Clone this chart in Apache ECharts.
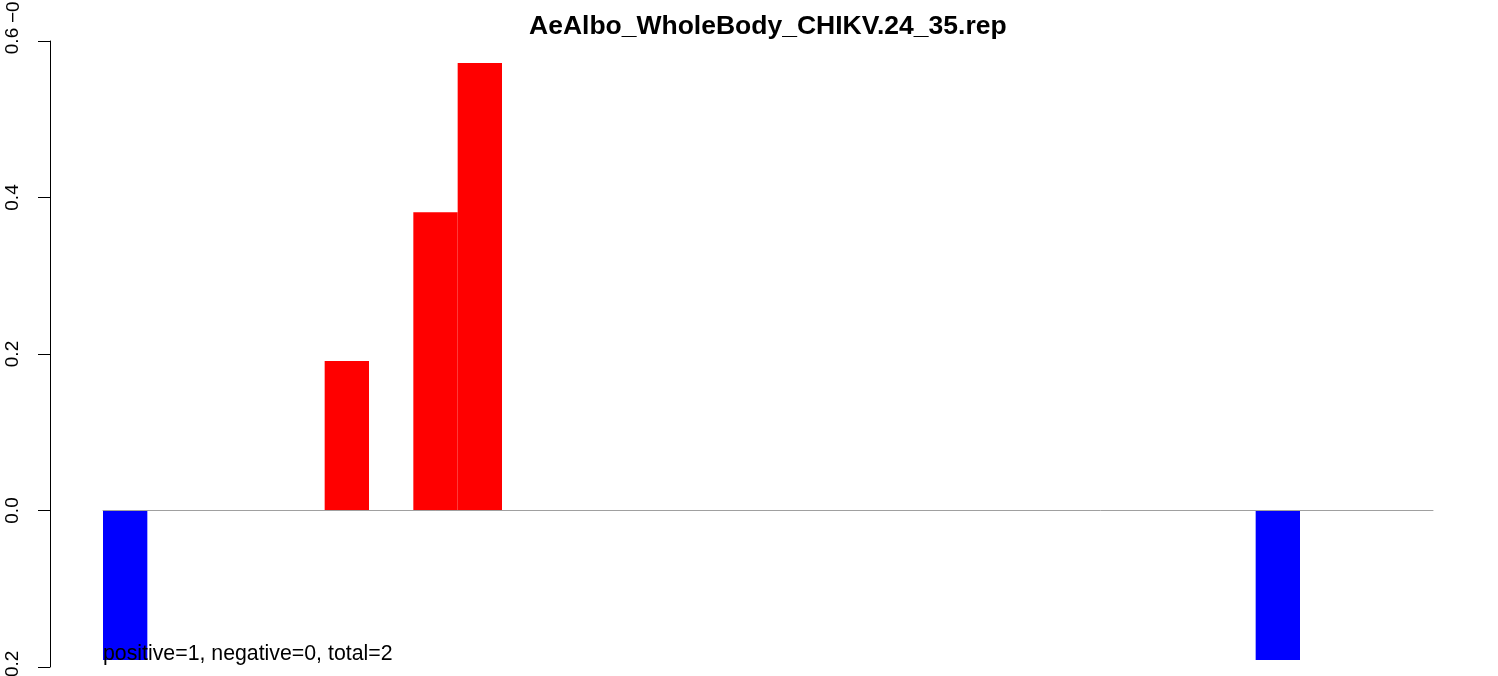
<!DOCTYPE html>
<html>
<head>
<meta charset="utf-8">
<script src="https://cdn.jsdelivr.net/npm/echarts@6/dist/echarts.min.js"></script>
<style>
html,body{margin:0;padding:0;background:#fff;overflow:hidden;}
#chart{width:1498px;height:676px;}
</style>
</head>
<body>
<div id="chart"></div>
<script>
var titleText = 'AeAlbo_WholeBody_CHIKV.24_35.rep';
var noteText = 'positive=1, negative=0, total=2';
var categories = [];
for (var i = 1; i <= 30; i++) categories.push(String(i));
var values = [-0.191, 0, 0, 0, 0, 0.191, 0, 0.381, 0.572, 0,
              0, 0, 0, 0, 0, 0, 0, 0, 0, 0,
              0, 0, 0, 0, 0, 0, -0.191, 0, 0, 0];
var yTicks = [-0.2, 0.0, 0.2, 0.4, 0.6];

var FONT = '"Liberation Sans", Arial, Helvetica, sans-serif';
var chart = echarts.init(document.getElementById('chart'), null, {renderer: 'canvas'});
chart.setOption({
  animation: false,
  backgroundColor: '#ffffff',
  title: {
    text: titleText,
    left: 529,
    top: 13,
    padding: 0,
    textStyle: {fontFamily: FONT, fontSize: 26.5, fontWeight: 'bold', color: '#000'}
  },
  grid: {left: 103, right: 65, top: 41, bottom: 9, containLabel: false, outerBoundsMode: 'none'},
  xAxis: {
    type: 'category',
    data: categories,
    axisLine: {show: true, onZero: true, lineStyle: {color: '#a0a0a0', width: 1}},
    axisTick: {show: false},
    axisLabel: {show: false},
    splitLine: {show: false},
    z: 3
  },
  yAxis: {
    type: 'value',
    min: yTicks[0],
    max: yTicks[yTicks.length - 1],
    interval: 0.2,
    offset: 53,
    axisLine: {show: true, lineStyle: {color: '#000', width: 1}},
    axisTick: {show: true, length: 12, lineStyle: {color: '#000', width: 1}},
    splitLine: {show: false},
    axisLabel: {
      rotate: 90,
      margin: 28,
      fontFamily: FONT,
      fontSize: 19,
      color: '#000',
      formatter: function (v) { return v.toFixed(1); }
    }
  },
  series: [{
    type: 'bar',
    data: values,
    barWidth: '100%',
    barCategoryGap: 0,
    itemStyle: {
      color: function (p) { return p.value >= 0 ? '#ff0000' : '#0000ff'; }
    }
  }],
  graphic: [
    {
      type: 'text',
      x: 103, y: 665,
      style: {text: noteText, font: '21.3px ' + FONT, fill: '#000', textAlign: 'left', textVerticalAlign: 'bottom'},
      z: 100
    },
    {
      type: 'text',
      x: 13.5, y: 23,
      rotation: Math.PI / 2,
      style: {text: '\u22120.6', font: '19px ' + FONT, fill: '#000', textAlign: 'left', textVerticalAlign: 'middle'},
      z: 100
    }
  ]
});
</script>
</body>
</html>
